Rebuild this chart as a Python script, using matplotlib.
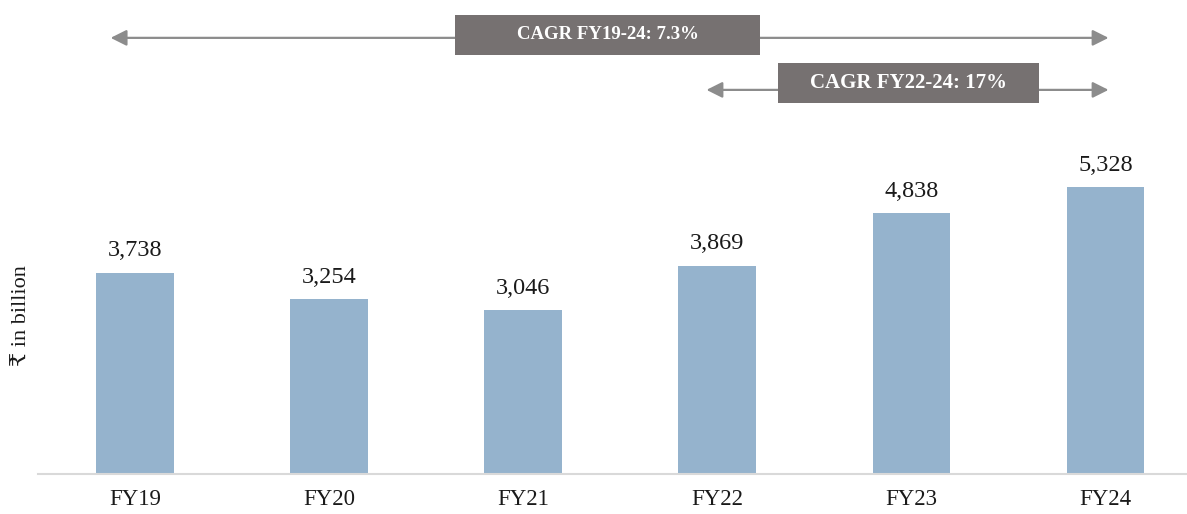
import matplotlib.pyplot as plt
from matplotlib.patches import Rectangle

years = ['FY19', 'FY20', 'FY21', 'FY22', 'FY23', 'FY24']
values = [3738, 3254, 3046, 3869, 4838, 5328]
cagr_labels = ['CAGR FY19-24: 7.3%', 'CAGR FY22-24: 17%']

plt.rcParams['font.family'] = ['Liberation Serif', 'DejaVu Serif', 'DejaVu Sans']

fig = plt.figure(figsize=(11.87, 5.14), dpi=100)
ax = fig.add_axes([0.032, 0.078, 0.968, 0.922])

x = range(len(years))
ax.bar(x, values, width=0.4, color='#95b3cd', zorder=2)
for i, v in enumerate(values):
    ax.annotate(f'{v:,}', (i, v), xytext=(0, 8), textcoords='offset points',
                ha='center', va='bottom', fontsize=17.5, color='#1a1a1a')

ax.set_xlim(-0.5, 5.42)
ax.set_ylim(0, 8800)
ax.set_xticks(list(x))
ax.set_xticklabels(years, fontsize=16.5, color='#1a1a1a')
ax.tick_params(axis='x', length=0, pad=11)
ax.set_yticks([])
for s in ['top', 'right', 'left']:
    ax.spines[s].set_visible(False)
ax.spines['bottom'].set_color('#d9d9d9')
ax.spines['bottom'].set_linewidth(1.5)
ax.set_ylabel('₹ in billion', fontsize=16, color='#1a1a1a')
ax.yaxis.set_label_coords(-0.005, 0.335)

# CAGR arrows with boxed labels
arrow_kw = dict(arrowstyle='<|-|>', color='#8c8c8c', lw=1.6, mutation_scale=24)
ax.annotate('', xy=(-0.14, 8097), xytext=(5.03, 8097), arrowprops=arrow_kw,
            annotation_clip=False)
ax.annotate('', xy=(2.93, 7131), xytext=(5.03, 7131), arrowprops=arrow_kw,
            annotation_clip=False)

ax.add_patch(Rectangle((1.649, 7781), 1.573, 742, fc='#767171', ec='none',
                       zorder=3, clip_on=False))
ax.add_patch(Rectangle((3.314, 6889), 1.341, 743, fc='#767171', ec='none',
                       zorder=3, clip_on=False))
ax.text(2.435, 8152, cagr_labels[0], ha='center', va='center', fontsize=13.5,
        fontweight='bold', color='white', zorder=4)
ax.text(3.985, 7260, cagr_labels[1], ha='center', va='center', fontsize=15,
        fontweight='bold', color='white', zorder=4)

fig.savefig('out.png', dpi=100)
